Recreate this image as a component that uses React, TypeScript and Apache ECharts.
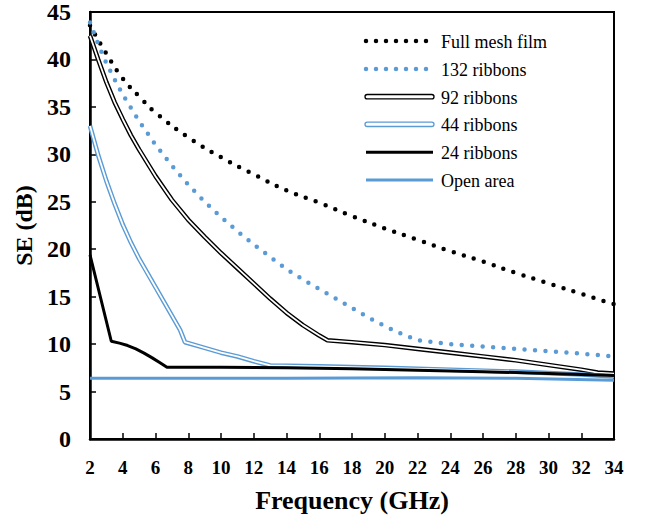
import React, { useEffect, useRef } from "react";
import * as echarts from "echarts";

const FONT = "Liberation Serif";
const BLUE = "#5B9BD5";

const fullMeshFreq = [2, 3, 4, 5, 6, 8, 10, 12, 14, 16, 18, 20, 22, 24, 26, 28, 30, 32, 34];
const fullMeshSE = [43.6, 40.6, 38.0, 36.1, 34.4, 31.8, 29.7, 27.9, 26.2, 24.9, 23.5, 22.2, 21.0, 19.8, 18.7, 17.5, 16.4, 15.3, 14.2];

const r132Freq = [2, 2.5, 3, 3.5, 4, 5, 6, 7, 8, 9, 10, 11, 12, 13, 14, 15, 16, 17, 18, 19, 20, 21, 22, 24, 26, 28, 30, 32, 34];
const r132SE = [43.9, 41.6, 39.6, 37.9, 36.3, 33.5, 31.0, 28.8, 26.8, 25.0, 23.4, 21.9, 20.5, 19.2, 17.9, 16.8, 15.8, 14.8, 13.8, 12.8, 11.9, 11.1, 10.4, 10.0, 9.75, 9.5, 9.25, 9.0, 8.7];

const r92Freq = [2, 2.5, 3, 3.5, 4, 4.5, 5, 6, 7, 8, 9, 10, 11, 12, 13, 14, 15, 16, 16.5, 18, 20, 22, 24, 26, 28, 30, 32, 33, 34];
const r92SE = [42.5, 40.0, 37.6, 35.5, 33.7, 32.0, 30.5, 27.7, 25.2, 23.1, 21.3, 19.6, 18.0, 16.4, 14.8, 13.3, 12.0, 10.9, 10.4, 10.2, 9.9, 9.5, 9.1, 8.7, 8.3, 7.8, 7.3, 7.0, 6.9];

const r44Freq = [2, 2.5, 3, 3.5, 4, 4.5, 5, 5.5, 6, 6.5, 7, 7.5, 7.8, 9, 10, 11, 12, 13, 16, 20, 24, 28, 32, 34];
const r44SE = [33.0, 29.9, 27.2, 24.8, 22.6, 20.7, 19.0, 17.5, 16.0, 14.5, 13.0, 11.5, 10.2, 9.6, 9.1, 8.7, 8.2, 7.75, 7.65, 7.5, 7.3, 7.1, 6.8, 6.6];

const r24Freq = [2, 3.3, 3.8, 4.3, 4.8, 5.3, 5.8, 6.3, 6.7, 10, 14, 18, 22, 26, 30, 34];
const r24SE = [19.4, 10.3, 10.1, 9.85, 9.5, 9.05, 8.55, 8.0, 7.55, 7.55, 7.5, 7.4, 7.25, 7.1, 6.9, 6.7];

const openFreq = [2, 14, 22, 28, 34];
const openSE = [6.4, 6.4, 6.45, 6.4, 6.2];

const legendNames = ["Full mesh film", "132 ribbons", "92 ribbons", "44 ribbons", "24 ribbons", "Open area"];

const pairs = (xs: number[], ys: number[]) => xs.map((x, i) => [x, ys[i]]);

export default function App() {
  const ref = useRef<HTMLDivElement>(null);
  useEffect(() => {
    if (!ref.current) return;
    const chart = echarts.init(ref.current, null, { renderer: "svg" });

    const base = { type: "line", showSymbol: false, symbol: "none", silent: true };
    const series: any[] = [
      { ...base, name: legendNames[0], data: pairs(fullMeshFreq, fullMeshSE), smooth: true,
        lineStyle: { color: "#000", width: 4.5, type: [0, 10.5], cap: "round" } },
      { ...base, name: legendNames[1], data: pairs(r132Freq, r132SE),
        lineStyle: { color: BLUE, width: 4.5, type: [0, 10.5], cap: "round" } },
      { ...base, name: legendNames[2], data: pairs(r92Freq, r92SE),
        lineStyle: { color: "#000", width: 4.6 } },
      { ...base, name: legendNames[2] + " inner", data: pairs(r92Freq, r92SE),
        lineStyle: { color: "#fff", width: 1.8 } },
      { ...base, name: legendNames[3], data: pairs(r44Freq, r44SE),
        lineStyle: { color: BLUE, width: 4.6 } },
      { ...base, name: legendNames[3] + " inner", data: pairs(r44Freq, r44SE),
        lineStyle: { color: "#fff", width: 1.8 } },
      { ...base, name: legendNames[4], data: pairs(r24Freq, r24SE),
        lineStyle: { color: "#000", width: 3 } },
      { ...base, name: legendNames[5], data: pairs(openFreq, openSE),
        lineStyle: { color: BLUE, width: 3 } },
    ];

    const lx0 = 366, lx1 = 433, tx = 441;
    const rows = [41, 69, 96.7, 124.3, 152.3, 180];
    const graphic: any[] = [];
    graphic.push({ type: "line", shape: { x1: lx0, y1: rows[0], x2: lx1, y2: rows[0] },
      style: { stroke: "#000", lineWidth: 4.5, lineDash: [0, 10], lineCap: "round" } });
    graphic.push({ type: "line", shape: { x1: lx0, y1: rows[1], x2: lx1, y2: rows[1] },
      style: { stroke: BLUE, lineWidth: 4.5, lineDash: [0, 10], lineCap: "round" } });
    graphic.push({ type: "rect", shape: { x: lx0 - 1, y: rows[2] - 2.2, width: lx1 - lx0 + 2, height: 4.4, r: 2.2 },
      style: { fill: "#fff", stroke: "#000", lineWidth: 1.3 } });
    graphic.push({ type: "rect", shape: { x: lx0 - 1, y: rows[3] - 2.2, width: lx1 - lx0 + 2, height: 4.4, r: 2.2 },
      style: { fill: "#fff", stroke: BLUE, lineWidth: 1.3 } });
    graphic.push({ type: "line", shape: { x1: lx0, y1: rows[4], x2: lx1, y2: rows[4] },
      style: { stroke: "#000", lineWidth: 3 } });
    graphic.push({ type: "line", shape: { x1: lx0, y1: rows[5], x2: lx1, y2: rows[5] },
      style: { stroke: BLUE, lineWidth: 3 } });
    legendNames.forEach((n, i) => {
      graphic.push({ type: "text", x: tx, y: rows[i] + 1,
        style: { text: n, fontFamily: FONT, fontSize: 18, fill: "#000", verticalAlign: "middle", align: "left" } });
    });

    chart.setOption({
      animation: false,
      backgroundColor: "#fff",
      grid: { left: 90, right: 38, top: 12, bottom: 83, show: true, borderColor: "#000", borderWidth: 2, backgroundColor: "transparent" },
      xAxis: {
        type: "value", min: 2, max: 34, interval: 2,
        name: "Frequency (GHz)", nameLocation: "middle", nameGap: 48,
        nameTextStyle: { fontFamily: FONT, fontWeight: "bold", fontSize: 26, color: "#000" },
        axisLine: { show: true, lineStyle: { color: "#000", width: 2.5 } },
        axisTick: { show: true, inside: true, length: 6, lineStyle: { color: "#000", width: 1.5 } },
        axisLabel: { fontFamily: FONT, fontWeight: "bold", fontSize: 19, color: "#000", margin: 19 },
        splitLine: { show: false },
      },
      yAxis: {
        type: "value", min: 0, max: 45, interval: 5,
        name: "SE (dB)", nameLocation: "middle", nameGap: 54, nameRotate: 90,
        nameTextStyle: { fontFamily: FONT, fontWeight: "bold", fontSize: 24, color: "#000" },
        axisLine: { show: true, lineStyle: { color: "#000", width: 2.5 } },
        axisTick: { show: true, inside: true, length: 6, lineStyle: { color: "#000", width: 1.5 } },
        axisLabel: { fontFamily: FONT, fontWeight: "bold", fontSize: 24, color: "#000", margin: 19 },
        splitLine: { show: false },
      },
      series,
      graphic,
    });
    return () => chart.dispose();
  }, []);
  return <div ref={ref} style={{ position: "fixed", left: 0, top: 0, width: 652, height: 522 }} />;
}
